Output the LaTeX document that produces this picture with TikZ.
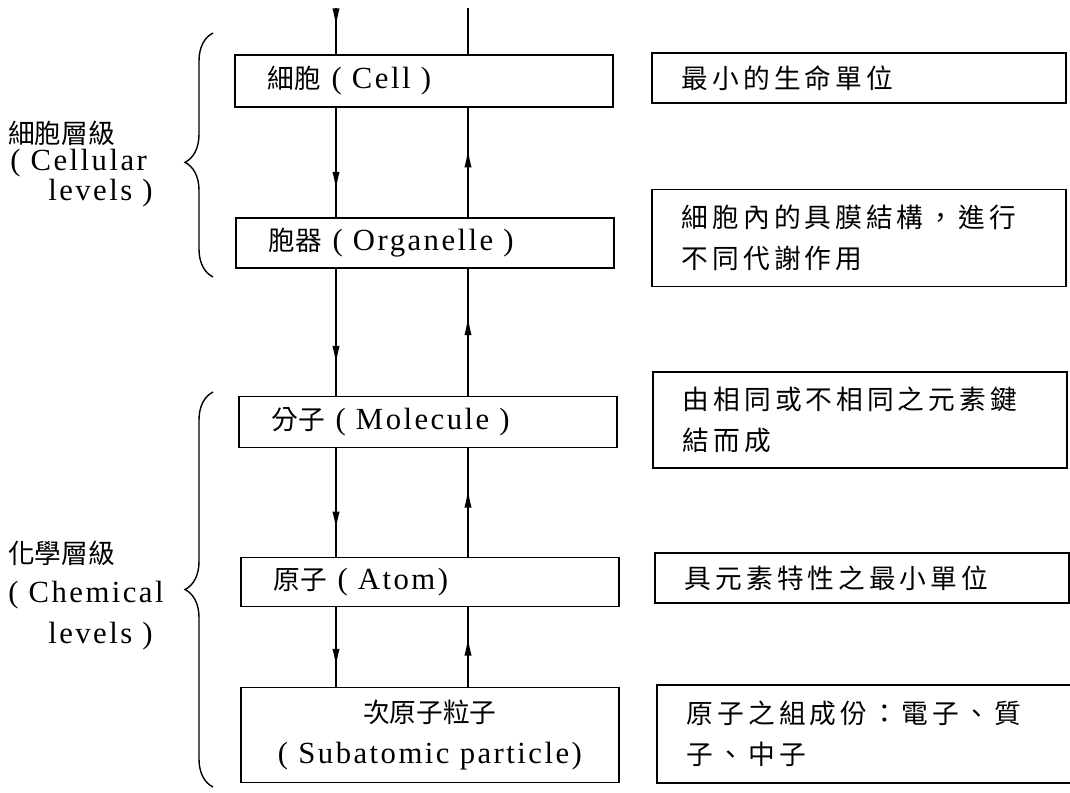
\documentclass[tikz,border=0pt]{standalone}
\usepackage{fontspec}
\setmainfont{Liberation Serif}[LetterSpace=8,Scale=1.15]
\newfontfamily\cjk{Noto Sans CJK TC}
\newfontfamily\cjkw{Noto Sans CJK TC}[LetterSpace=15]
\usepackage{tikz}
\usetikzlibrary{arrows.meta,decorations.markings,decorations.pathreplacing}
\tikzset{>=latex}
\newcommand{\zh}[1]{{\cjk #1}}
\newcommand{\zhw}[1]{{\cjkw #1}}

\begin{document}
\begin{tikzpicture}[x=0.025cm,y=-0.025cm,
  font=\fontsize{19}{29}\selectfont,
  lbox/.style={draw,line width=1.2pt,anchor=west,minimum width=9.45cm,text width=7.8cm,align=left,inner xsep=0.8cm},
  rbox/.style={draw,line width=1.2pt,anchor=west,minimum width=10.35cm,text width=8.85cm,align=left,inner xsep=0.75cm},
  dn/.style={line width=0.8pt,postaction={decorate},decoration={markings,mark=at position #1 with {\arrow{Latex[length=4.5mm,width=1.8mm]}}}},
  lab/.style={anchor=west,inner sep=0pt}]
\useasboundingbox (0,0) rectangle (1070,792);

% levels on the left
\node[lbox,minimum height=1.3cm] (l1) at (234,81) {\zh{細胞} ( Cell )};
\node[lbox,minimum height=1.25cm] (l2) at (235,243) {\zh{胞器} ( Organelle )};
\node[lbox,minimum height=1.275cm] (l3) at (238,422) {\zh{分子} ( Molecule )};
\node[lbox,minimum height=1.225cm] (l4) at (240,582) {\zh{原子} ( Atom)};
\node[lbox,minimum height=2.375cm,align=center,text width=9.25cm,inner xsep=0.1cm] (l5) at (240,735) {\zh{次原子粒子}\\( Subatomic particle)};

% notes on the right
\node[rbox,minimum height=1.25cm] (r1) at (651,78) {\zhw{最小的生命單位}};
\node[rbox,minimum height=2.425cm] (r2) at (651,238) {\zhw{細胞內的具膜結構，進行}\\\zhw{不同代謝作用}};
\node[rbox,minimum height=2.4cm] (r3) at (652,420) {\zhw{由相同或不相同之元素鍵}\\\zhw{結而成}};
\node[rbox,minimum height=1.25cm] (r4) at (654,578) {\zhw{具元素特性之最小單位}};
\node[rbox,minimum height=2.45cm] (r5) at (656,734) {\zhw{原子之組成份：電子、質}\\\zhw{子、中子}};

% arrows down and up
\coordinate (a0) at (336,8);
\coordinate (b0) at (468,8);
\draw[dn=0.4] (a0) -- (a0 |- l1.north);
\draw[line width=0.8pt] (b0) -- (b0 |- l1.north);
\foreach \u/\v in {l1/l2,l2/l3,l3/l4,l4/l5}{
  \draw[dn=0.75] (a0 |- \u.south) -- (a0 |- \v.north);
  \draw[dn=0.62] (b0 |- \v.north) -- (b0 |- \u.south);
}

% braces and group names
\draw[line width=1pt,decorate,decoration={brace,amplitude=0.7cm,aspect=0.47}] (213,277) -- (213,33);
\draw[line width=1pt,decorate,decoration={brace,amplitude=0.7cm}] (213,787) -- (213,392);
\node[lab] (t1) at (8,133) {\zh{細胞層級}};
\node[lab] (t2) at (10,163) {( Cellular};
\node[lab] (t3) at (48,193) {levels )};
\node[lab] (t4) at (8,553) {\zh{化學層級}};
\node[lab] (t5) at (8,595) {( Chemical};
\node[lab] (t6) at (48,636) {levels )};
\end{tikzpicture}
\end{document}
